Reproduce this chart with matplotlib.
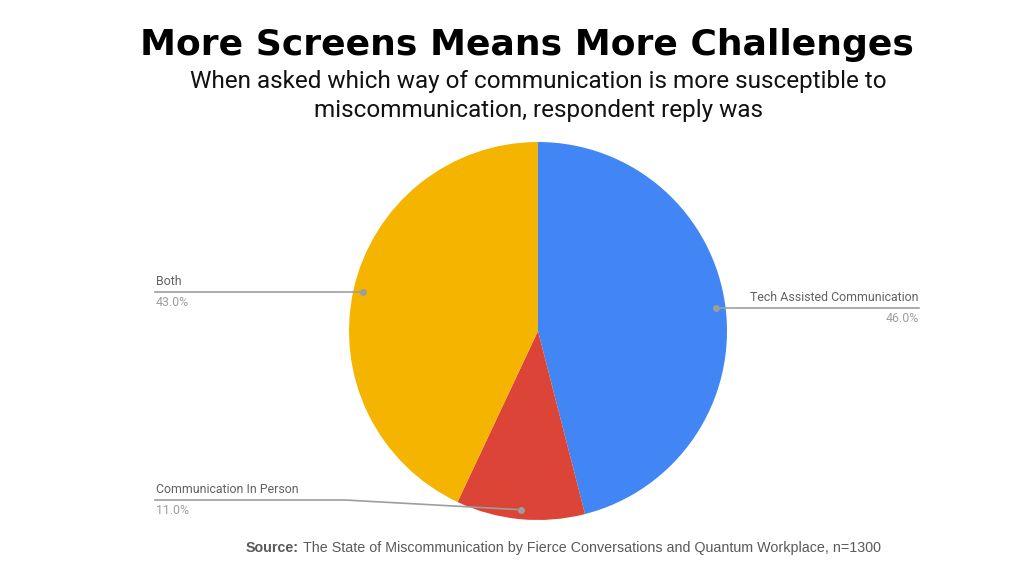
import numpy as np
import matplotlib
matplotlib.use("Agg")
from matplotlib import pyplot as plt

labels = ["Tech Assisted Communication", "Communication In Person", "Both"]
values = [46.0, 11.0, 43.0]
colors = ["#4285F4", "#DB4437", "#F4B400"]

title = "More Screens Means More Challenges"
subtitle = "When asked which way of communication is more susceptible to\nmiscommunication, respondent reply was"
source = "The State of Miscommunication by Fierce Conversations and Quantum Workplace, n=1300"

W, H = 1024, 576
fig = plt.figure(figsize=(W / 100, H / 100), dpi=100)
ax = fig.add_axes([0, 0, 1, 1])

cx, cy, r = 538, H - 331, 189
ax.pie(values, colors=colors, startangle=90, counterclock=False,
       center=(cx, cy), radius=r, frame=True,
       wedgeprops=dict(linewidth=0))
ax.set_xlim(0, W)
ax.set_ylim(0, H)
ax.set_aspect("equal")
ax.axis("off")

# leader dots at slice middles
start = 90.0
mids = []
for v in values:
    ang = start - v / 100 * 360 / 2
    mids.append(np.deg2rad(ang))
    start -= v / 100 * 360
dots = [(cx + 0.95 * r * np.cos(a), cy + 0.95 * r * np.sin(a)) for a in mids]

line_c = "#9e9e9e"
lab_c = "#616161"
pct_c = "#9e9e9e"
font = "Roboto"
fs = 8.9

# Tech assisted (right side)
dx, dy = dots[0]
ax.plot([dx, 919], [dy, dy], color=line_c, lw=1.2)
ax.plot(dx, dy, "o", color=line_c, ms=4)
ax.text(919, dy + 4, labels[0], ha="right", va="bottom", fontsize=fs, color=lab_c, family=font)
ax.text(919, dy - 4, f"{values[0]:.1f}%", ha="right", va="top", fontsize=fs, color=pct_c, family=font)

# In person (lower left)
dx, dy = dots[1]
ly = H - 500
ax.plot([155, 345, dx], [ly, ly, dy], color=line_c, lw=1.2)
ax.plot(dx, dy, "o", color=line_c, ms=4)
ax.text(156, ly + 4, labels[1], ha="left", va="bottom", fontsize=fs, color=lab_c, family=font)
ax.text(156, ly - 4, f"{values[1]:.1f}%", ha="left", va="top", fontsize=fs, color=pct_c, family=font)

# Both (left)
dx, dy = dots[2]
ax.plot([155, dx], [dy, dy], color=line_c, lw=1.2)
ax.plot(dx, dy, "o", color=line_c, ms=4)
ax.text(156, dy + 4, labels[2], ha="left", va="bottom", fontsize=fs, color=lab_c, family=font)
ax.text(156, dy - 4, f"{values[2]:.1f}%", ha="left", va="top", fontsize=fs, color=pct_c, family=font)

# titles
ax.text(527, H - 45, title, ha="center", va="center", fontsize=26, fontweight="bold",
        color="black", family="DejaVu Sans")
ax.text(538, H - 96, subtitle, ha="center", va="center", fontsize=17.5, color="#111111",
        family=font, linespacing=1.3)

t1 = fig.text(246 / W, 1 - 548 / H, "Source:", ha="left", va="center", fontsize=10.3,
              fontweight="bold", color="#595959", family="Liberation Sans")
fig.canvas.draw()
bb = t1.get_window_extent()
fig.text((bb.x1 + 4) / W, 1 - 548 / H, source,
         ha="left", va="center", fontsize=10.3, color="#595959", family="Liberation Sans")

fig.savefig("out.png", dpi=100, facecolor="white")
